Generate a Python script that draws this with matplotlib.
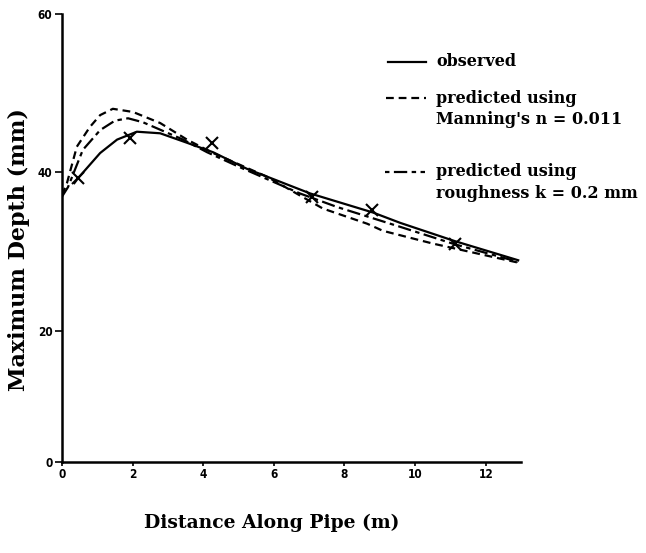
import matplotlib
matplotlib.use("Agg")
from matplotlib import pyplot as plt
import numpy as np

# observed depth (crosses) along the pipe
obs_x = [0.45, 1.93, 4.25, 7.08, 8.78, 11.13]
obs_y = [39.2, 44.3, 43.7, 36.8, 35.2, 31.0]

# observed curve (solid)
solid_x = [0.35, 0.45, 1.08, 1.56, 2.12, 2.78, 3.54, 4.28, 5.24, 7.03, 8.81, 9.58, 11.13, 12.92]
solid_y = [38.6, 39.2, 42.4, 44.1, 45.1, 44.9, 43.7, 42.5, 40.4, 37.3, 34.9, 33.6, 31.3, 28.9]

# predicted using Manning's n = 0.011 (short dash)
mann_x = [0.0, 0.14, 0.42, 0.79, 1.08, 1.44, 2.01, 2.78, 3.54, 4.28, 5.81, 7.39, 8.64, 9.09, 10.5, 12.92]
mann_y = [37.1, 38.6, 43.2, 45.7, 47.2, 48.0, 47.6, 46.2, 44.1, 42.4, 39.4, 35.4, 33.5, 32.6, 31.0, 28.6]

# predicted using roughness k = 0.2 mm (long-short dash)
rough_x = [0.0, 0.17, 0.59, 1.08, 1.5, 1.87, 2.29, 3.43, 4.11, 5.04, 6.74, 7.79, 9.58, 11.13, 12.92]
rough_y = [36.9, 38.1, 42.8, 45.3, 46.5, 46.8, 46.3, 44.1, 42.5, 40.6, 37.3, 35.6, 33.1, 30.9, 28.7]

x_ticks = [0, 2, 4, 6, 8, 10, 12]
y_ticks = [0, 20, 40, 60]
# the printed y axis is not evenly spaced below 20
y_marks = [0, 20, 40, 60]
y_pix = [0, 131, 290, 448]

serif = {'family': 'DejaVu Serif', 'weight': 'bold'}

fig = plt.figure(figsize=(6.46, 5.53), dpi=100)
ax = fig.add_axes([62 / 646, 1 - 462 / 553, (521 - 62) / 646, (462 - 14) / 553])
ax.set_yscale('function', functions=(lambda v: np.interp(v, y_marks, y_pix),
                                     lambda p: np.interp(p, y_pix, y_marks)))

ax.plot(solid_x, solid_y, '-', color='black', lw=1.6)
ax.plot(mann_x, mann_y, color='black', lw=1.6, dashes=(3.5, 2.2))
ax.plot(rough_x, rough_y, color='black', lw=1.6, dashes=(6, 2, 2, 2))
ax.plot(obs_x, obs_y, 'x', color='black', ms=8, mew=1.5)

ax.set_xlim(0, 13)
ax.set_ylim(0, 60)
ax.set_xticks(x_ticks)
ax.set_yticks(y_ticks)
ax.minorticks_off()
for s in ['top', 'right']:
    ax.spines[s].set_visible(False)
for s in ['left', 'bottom']:
    ax.spines[s].set_linewidth(1.8)
ax.tick_params(axis='y', length=5, width=1.2, labelsize=8.5, pad=2)
ax.tick_params(axis='x', length=3, width=1.2, labelsize=8.5, pad=1)
for lab in ax.get_xticklabels() + ax.get_yticklabels():
    lab.set_family('DejaVu Sans')
    lab.set_stretch('condensed')
    lab.set_weight('bold')

ax.set_xlabel('Distance Along Pipe (m)', fontsize=13.5, **serif)
ax.xaxis.set_label_coords((272 - 62) / 459, -52 / 448)
ax.set_ylabel('Maximum Depth (mm)', fontsize=16, **serif)
ax.yaxis.set_label_coords(-32 / 459, (462 - 250) / 448)

# legend drawn by hand as in the original
tr = fig.transFigure
def fx(px):
    return px / 646
def fy(py):
    return 1 - py / 553

fig.lines.append(plt.Line2D([fx(388), fx(426)], [fy(62), fy(62)], transform=tr, color='black', lw=1.6))
fig.lines.append(plt.Line2D([fx(386), fx(426)], [fy(98), fy(98)], transform=tr, color='black', lw=1.6, dashes=(3.5, 2.2)))
fig.lines.append(plt.Line2D([fx(385), fx(425)], [fy(172), fy(172)], transform=tr, color='black', lw=1.6, dashes=(2, 2, 6, 2)))

fs = 11.5
fig.text(fx(436), fy(62), 'observed', fontsize=fs, va='center', **serif)
fig.text(fx(436), fy(98), 'predicted using', fontsize=fs, va='center', **serif)
fig.text(fx(436), fy(119), "Manning's n = 0.011", fontsize=fs, va='center', **serif)
fig.text(fx(436), fy(172), 'predicted using', fontsize=fs, va='center', **serif)
fig.text(fx(436), fy(194), 'roughness k = 0.2 mm', fontsize=fs, va='center', **serif)

fig.savefig('out.png', dpi=100)
